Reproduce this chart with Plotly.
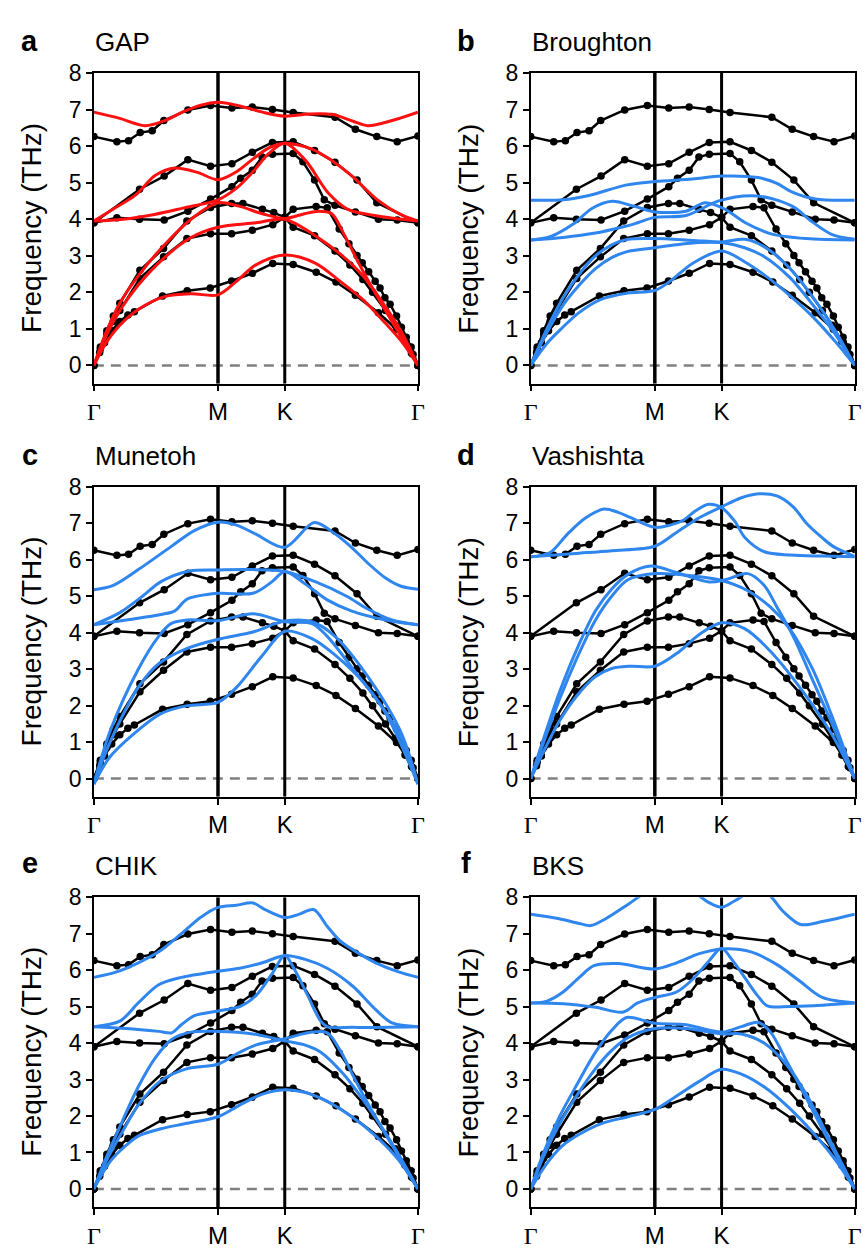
import plotly.graph_objects as go

XM, XK = 0.383, 0.589
xtick_vals = [0.0, XM, XK, 1.0]
ytick_vals = [0, 1, 2, 3, 4, 5, 6, 7, 8]

dft_b1 = [(0,0),(0.018,0.35),(0.033,0.62),(0.055,0.95),(0.08,1.2),(0.105,1.38),(0.125,1.47),(0.212,1.9),(0.288,2.04),(0.359,2.12),(0.425,2.31),(0.489,2.52),(0.552,2.79),(0.615,2.76),(0.686,2.55),(0.747,2.28),(0.807,1.92),(0.878,1.44),(0.934,0.99),(0.964,0.64),(0.985,0.3),(1.0,0)]
dft_b2 = [(0,0),(0.02,0.45),(0.04,0.85),(0.06,1.2),(0.08,1.5),(0.142,2.38),(0.215,2.97),(0.287,3.47),(0.36,3.6),(0.425,3.6),(0.489,3.7),(0.552,3.85),(0.589,4.05),(0.615,3.78),(0.681,3.55),(0.744,3.13),(0.79,2.75),(0.83,2.35),(0.86,2.0),(0.9,1.5),(0.93,1.1),(0.96,0.65),(0.98,0.33),(1.0,0)]
dft_b3 = [(0,0),(0.02,0.5),(0.04,0.95),(0.06,1.35),(0.08,1.7),(0.142,2.6),(0.215,3.2),(0.287,3.95),(0.36,4.32),(0.425,4.43),(0.46,4.43),(0.52,4.27),(0.555,4.18),(0.589,4.05),(0.615,4.27),(0.686,4.35),(0.72,4.31),(0.757,3.73),(0.787,3.33),(0.812,3.01),(0.828,2.81),(0.848,2.56),(0.868,2.3),(0.883,2.12),(0.898,1.85),(0.914,1.67),(0.934,1.35),(0.949,1.04),(0.964,0.77),(0.979,0.5),(1.0,0)]
dft_b4 = [(0,3.9),(0.071,4.04),(0.141,4.0),(0.217,3.98),(0.29,4.22),(0.36,4.55),(0.426,4.89),(0.453,5.12),(0.489,5.34),(0.519,5.7),(0.551,5.78),(0.615,5.8),(0.645,5.57),(0.681,5.07),(0.711,4.53),(0.744,4.38),(0.807,4.2),(0.878,4.0),(0.936,3.98),(1.0,3.9)]
dft_b5 = [(0,3.9),(0.141,4.82),(0.217,5.18),(0.29,5.63),(0.36,5.45),(0.426,5.52),(0.489,5.83),(0.551,6.1),(0.615,6.12),(0.681,5.88),(0.744,5.56),(0.812,5.07),(0.873,4.45),(1.0,3.9)]
dft_b6 = [(0,6.26),(0.071,6.12),(0.107,6.15),(0.143,6.37),(0.18,6.42),(0.216,6.7),(0.29,6.99),(0.36,7.11),(0.426,7.04),(0.489,7.07),(0.551,7.0),(0.615,6.92),(0.744,6.79),(0.807,6.46),(0.873,6.26),(0.936,6.12),(1.0,6.28)]

gap_b1 = [(0,0),(0.04,0.65),(0.08,1.1),(0.137,1.53),(0.218,1.88),(0.3,1.96),(0.383,1.93),(0.44,2.3),(0.5,2.75),(0.589,3.02),(0.683,2.8),(0.76,2.3),(0.835,1.76),(0.9,1.15),(0.95,0.65),(1,0)]
gap_b2 = [(0,0),(0.04,0.85),(0.08,1.5),(0.137,2.2),(0.218,2.95),(0.3,3.5),(0.383,3.78),(0.5,3.9),(0.589,4.0),(0.683,3.55),(0.76,3.05),(0.83,2.45),(0.9,1.6),(0.95,0.9),(1,0)]
gap_b3 = [(0,0),(0.04,0.95),(0.08,1.7),(0.137,2.45),(0.218,3.3),(0.3,4.0),(0.383,4.45),(0.45,4.35),(0.52,4.15),(0.589,4.02),(0.65,4.15),(0.693,4.22),(0.734,4.15),(0.774,3.55),(0.82,2.75),(0.87,1.95),(0.93,1.05),(1,0)]
gap_b4 = [(0,3.95),(0.09,4.0),(0.187,4.13),(0.278,4.31),(0.383,4.53),(0.44,4.85),(0.491,5.3),(0.54,5.8),(0.589,6.08),(0.653,5.61),(0.724,4.71),(0.784,4.27),(0.875,4.09),(1,3.95)]
gap_b5 = [(0,3.95),(0.06,4.28),(0.127,4.65),(0.19,5.2),(0.25,5.4),(0.32,5.28),(0.383,5.08),(0.44,5.3),(0.491,5.65),(0.54,5.95),(0.589,6.08),(0.673,5.92),(0.735,5.6),(0.794,5.2),(0.875,4.53),(0.946,4.13),(1,3.95)]
gap_b6 = [(0,6.93),(0.08,6.76),(0.157,6.56),(0.22,6.7),(0.278,6.95),(0.33,7.12),(0.383,7.2),(0.45,7.1),(0.52,6.93),(0.589,6.82),(0.663,6.88),(0.734,6.87),(0.8,6.68),(0.845,6.56),(0.92,6.7),(1,6.93)]

bro_b1 = [(0,0),(0.05,0.6),(0.094,1.0),(0.15,1.45),(0.215,1.8),(0.3,1.98),(0.383,2.05),(0.43,2.3),(0.499,2.79),(0.589,3.13),(0.661,2.83),(0.747,2.3),(0.82,1.75),(0.878,1.26),(0.94,0.65),(1,0)]
bro_b2 = [(0,0),(0.05,0.9),(0.1,1.65),(0.15,2.2),(0.2,2.65),(0.25,2.95),(0.3,3.12),(0.383,3.22),(0.45,3.3),(0.52,3.36),(0.589,3.36),(0.66,3.22),(0.72,2.98),(0.8,2.4),(0.88,1.55),(0.94,0.85),(1,0)]
bro_b3 = [(0,0),(0.05,1.0),(0.1,1.85),(0.15,2.5),(0.2,3.0),(0.25,3.3),(0.3,3.45),(0.383,3.47),(0.5,3.42),(0.589,3.38),(0.66,3.45),(0.72,3.25),(0.8,2.65),(0.88,1.75),(0.94,0.95),(1,0)]
bro_b4 = [(0,3.43),(0.1,3.5),(0.2,3.62),(0.28,3.78),(0.322,3.88),(0.383,4.05),(0.479,4.1),(0.58,4.5),(0.68,4.64),(0.75,4.55),(0.812,4.33),(0.87,3.92),(0.93,3.58),(1,3.45)]
bro_b5 = [(0,3.43),(0.06,3.52),(0.13,3.86),(0.19,4.3),(0.251,4.49),(0.32,4.35),(0.383,4.2),(0.479,4.22),(0.539,4.45),(0.6,4.27),(0.661,3.91),(0.742,3.6),(0.85,3.47),(1,3.43)]
bro_b6 = [(0,4.52),(0.1,4.53),(0.18,4.65),(0.297,4.94),(0.383,5.03),(0.499,5.1),(0.589,5.18),(0.701,5.14),(0.76,4.98),(0.802,4.76),(0.878,4.55),(1,4.52)]

mun_b1 = [(0,-0.15),(0.05,0.6),(0.137,1.33),(0.207,1.78),(0.288,2.0),(0.383,2.09),(0.44,2.5),(0.521,3.39),(0.589,4.04),(0.673,3.84),(0.744,3.39),(0.845,2.5),(0.946,1.15),(1,-0.15)]
mun_b2 = [(0,-0.15),(0.05,1.0),(0.137,2.5),(0.2,3.15),(0.288,3.57),(0.383,3.82),(0.491,4.02),(0.589,4.32),(0.673,4.3),(0.744,3.9),(0.845,2.8),(0.946,1.3),(1,-0.15)]
mun_b3 = [(0,-0.15),(0.05,1.3),(0.137,3.0),(0.2,3.9),(0.238,4.25),(0.288,4.35),(0.383,4.33),(0.491,4.52),(0.589,4.3),(0.673,4.25),(0.72,3.9),(0.8,3.0),(0.9,1.8),(1,-0.15)]
mun_b4 = [(0,4.22),(0.1,4.35),(0.207,4.5),(0.25,4.6),(0.288,4.92),(0.383,5.08),(0.491,5.08),(0.55,5.4),(0.589,5.68),(0.65,5.35),(0.72,4.9),(0.794,4.6),(0.9,4.35),(1,4.22)]
mun_b5 = [(0,4.22),(0.08,4.55),(0.15,5.0),(0.207,5.4),(0.288,5.68),(0.383,5.72),(0.491,5.73),(0.589,5.68),(0.683,5.4),(0.78,5.0),(0.845,4.65),(0.92,4.35),(1,4.22)]
mun_b6 = [(0,5.18),(0.06,5.3),(0.137,5.73),(0.238,6.36),(0.31,6.8),(0.383,7.03),(0.44,6.95),(0.5,6.7),(0.589,6.34),(0.68,7.02),(0.744,6.71),(0.8,6.3),(0.845,5.91),(0.9,5.5),(0.946,5.28),(1,5.19)]

vas_b1 = [(0,0),(0.04,0.75),(0.09,1.6),(0.145,2.3),(0.2,2.8),(0.25,3.02),(0.307,3.08),(0.383,3.08),(0.458,3.48),(0.52,3.95),(0.589,4.27),(0.66,4.11),(0.741,3.48),(0.853,2.23),(0.93,1.2),(1,0)]
vas_b2 = [(0,0),(0.04,1.0),(0.09,2.2),(0.145,3.35),(0.2,4.35),(0.25,5.0),(0.3,5.45),(0.383,5.62),(0.45,5.6),(0.589,5.43),(0.67,5.15),(0.74,4.7),(0.8,4.1),(0.87,3.0),(0.93,1.7),(1,0)]
vas_b3 = [(0,0),(0.04,1.1),(0.09,2.4),(0.145,3.6),(0.2,4.6),(0.25,5.2),(0.3,5.6),(0.37,5.83),(0.45,5.65),(0.55,5.39),(0.6,5.45),(0.67,5.62),(0.72,5.3),(0.76,4.7),(0.81,3.9),(0.87,2.7),(0.93,1.5),(1,0)]
vas_b4 = [(0,6.08),(0.06,6.2),(0.114,6.71),(0.17,7.15),(0.226,7.39),(0.27,7.3),(0.307,7.16),(0.383,6.89),(0.43,6.95),(0.468,7.07),(0.51,7.35),(0.549,7.52),(0.589,7.43),(0.63,7.05),(0.66,6.62),(0.721,6.22),(0.802,6.13),(0.9,6.1),(1,6.08)]
vas_b5 = [(0,6.08),(0.15,6.18),(0.25,6.25),(0.383,6.37),(0.45,6.75),(0.52,7.15),(0.589,7.45),(0.65,7.7),(0.703,7.81),(0.76,7.75),(0.81,7.45),(0.853,6.98),(0.9,6.6),(0.934,6.36),(1,6.09)]

chik_b1 = [(0,0),(0.05,0.75),(0.1,1.2),(0.137,1.45),(0.207,1.65),(0.288,1.8),(0.383,1.98),(0.45,2.3),(0.52,2.6),(0.589,2.72),(0.65,2.65),(0.72,2.4),(0.8,1.95),(0.87,1.45),(0.94,0.8),(1,0)]
chik_b2 = [(0,0),(0.04,0.8),(0.09,1.6),(0.137,2.3),(0.207,2.97),(0.288,3.3),(0.383,3.42),(0.44,3.7),(0.501,3.95),(0.589,4.12),(0.673,4.3),(0.72,4.28),(0.76,3.8),(0.8,3.1),(0.845,2.35),(0.9,1.5),(0.95,0.75),(1,0)]
chik_b3 = [(0,0),(0.04,0.9),(0.09,1.9),(0.137,2.8),(0.19,3.6),(0.24,4.1),(0.3,4.3),(0.383,4.32),(0.491,4.25),(0.589,4.06),(0.65,3.95),(0.7,3.75),(0.77,3.15),(0.85,2.2),(0.93,1.1),(1,0)]
chik_b4 = [(0,4.45),(0.1,4.4),(0.2,4.32),(0.24,4.28),(0.27,4.5),(0.31,4.75),(0.383,4.88),(0.45,5.0),(0.5,5.3),(0.55,5.9),(0.589,6.4),(0.62,6.0),(0.66,5.3),(0.7,4.6),(0.72,4.45),(0.8,4.43),(1,4.45)]
chik_b5 = [(0,4.45),(0.08,4.6),(0.137,5.1),(0.2,5.6),(0.27,5.8),(0.383,5.97),(0.45,6.05),(0.52,6.2),(0.589,6.4),(0.65,6.3),(0.72,6.05),(0.8,5.55),(0.86,5.0),(0.92,4.55),(1,4.45)]
chik_b6 = [(0,5.8),(0.07,5.95),(0.137,6.2),(0.2,6.5),(0.27,7.0),(0.33,7.45),(0.383,7.72),(0.44,7.78),(0.491,7.84),(0.53,7.65),(0.589,7.44),(0.63,7.52),(0.678,7.66),(0.72,7.2),(0.76,6.8),(0.81,6.5),(0.87,6.2),(0.94,5.95),(1,5.8)]

bks_b1 = [(0,0),(0.05,0.7),(0.1,1.2),(0.15,1.5),(0.22,1.8),(0.3,1.98),(0.383,2.18),(0.45,2.55),(0.52,2.95),(0.589,3.28),(0.65,3.15),(0.72,2.8),(0.8,2.2),(0.88,1.45),(0.94,0.8),(1,0)]
bks_b2 = [(0,0),(0.04,0.9),(0.09,1.8),(0.145,2.6),(0.2,3.3),(0.25,3.8),(0.3,4.15),(0.383,4.4),(0.48,4.4),(0.589,4.25),(0.65,4.25),(0.72,4.0),(0.79,3.4),(0.85,2.6),(0.92,1.4),(1,0)]
bks_b3 = [(0,0),(0.04,1.0),(0.09,2.0),(0.145,2.9),(0.2,3.75),(0.25,4.35),(0.296,4.7),(0.383,4.54),(0.48,4.5),(0.589,4.3),(0.65,4.45),(0.701,4.57),(0.74,4.3),(0.79,3.5),(0.85,2.5),(0.92,1.3),(1,0)]
bks_b4 = [(0,5.1),(0.1,5.08),(0.2,4.98),(0.286,4.85),(0.33,5.1),(0.383,5.25),(0.45,5.4),(0.5,5.75),(0.55,6.25),(0.589,6.6),(0.62,6.3),(0.66,5.8),(0.7,5.3),(0.73,5.02),(0.8,5.0),(1,5.1)]
bks_b5 = [(0,5.1),(0.05,5.15),(0.1,5.4),(0.15,5.8),(0.195,6.12),(0.27,6.18),(0.383,6.03),(0.45,6.2),(0.52,6.45),(0.589,6.58),(0.68,6.5),(0.76,6.15),(0.83,5.7),(0.9,5.25),(1,5.1)]
bks_b6 = [(0,7.53),(0.08,7.42),(0.15,7.28),(0.185,7.22),(0.23,7.4),(0.3,7.8),(0.35,8.1),(0.42,8.35),(0.5,8.15),(0.55,7.85),(0.589,7.72),(0.63,7.9),(0.68,8.15),(0.73,8.1),(0.78,7.6),(0.833,7.25),(0.9,7.33),(1,7.53)]

panel_letters = ["a", "b", "c", "d", "e", "f"]
panel_titles = ["GAP", "Broughton", "Munetoh", "Vashishta", "CHIK", "BKS"]

RED = "#ff1010"
BLUE = "#2f86ee"

dft_bands = [dft_b1, dft_b2, dft_b3, dft_b4, dft_b5, dft_b6]
model_bands = [
    ([gap_b1, gap_b2, gap_b3, gap_b4, gap_b5, gap_b6], RED),
    ([bro_b1, bro_b2, bro_b3, bro_b4, bro_b5, bro_b6], BLUE),
    ([mun_b1, mun_b2, mun_b3, mun_b4, mun_b5, mun_b6], BLUE),
    ([vas_b1, vas_b2, vas_b3, vas_b4, vas_b5], BLUE),
    ([chik_b1, chik_b2, chik_b3, chik_b4, chik_b5, chik_b6], BLUE),
    ([bks_b1, bks_b2, bks_b3, bks_b4, bks_b5, bks_b6], BLUE),
]

W, H = 867, 1249
col_px = [(88.3, 417.7), (532.3, 861.7)]
row_px = [(61.1, 377.3), (482.3, 797.9), (900.0, 1215.6)]
letter_y = [29, 450, 865]
title_y = [30, 451, 868]

FONT = "Liberation Sans, Arial, sans-serif"
gamma = '<span style="font-family:Liberation Serif, Times New Roman, serif">Γ</span>'


def px_x(p):
    return min(max(p / W, 0.0), 1.0)


def px_y(p):
    return min(max(1 - p / H, 0.0), 1.0)


fig = go.Figure()
layout = dict(
    width=W, height=H, margin=dict(l=0, r=0, t=0, b=0),
    paper_bgcolor="white", plot_bgcolor="white", showlegend=False,
    font=dict(family=FONT, color="black"),
)
annotations = []

for i in range(6):
    r, c = divmod(i, 2)
    n = i + 1
    xa = "x" if n == 1 else f"x{n}"
    ya = "y" if n == 1 else f"y{n}"
    x0, x1 = col_px[c]
    y0, y1 = row_px[r]
    layout["xaxis" if n == 1 else f"xaxis{n}"] = dict(
        domain=[px_x(x0), px_x(x1)], range=[0, 1], anchor=ya,
        tickvals=xtick_vals, ticktext=[gamma, "M", "K", gamma],
        ticks="outside", ticklen=6, tickwidth=1.5, tickcolor="black",
        showline=True, linecolor="black", linewidth=1.5, mirror=True,
        showgrid=False, zeroline=False, tickfont=dict(size=24, family=FONT),
    )
    layout["yaxis" if n == 1 else f"yaxis{n}"] = dict(
        domain=[px_y(y1), px_y(y0)], range=[-0.5, 8], anchor=xa,
        tickvals=ytick_vals, ticks="outside", ticklen=6, tickwidth=1.5, tickcolor="black",
        showline=True, linecolor="black", linewidth=1.5, mirror=True,
        showgrid=False, zeroline=False, tickfont=dict(size=23, family=FONT),
    )
    fig.add_trace(go.Scatter(x=[0, 1], y=[0, 0], mode="lines", xaxis=xa, yaxis=ya,
                             line=dict(color="#808080", width=2.5, dash="10px,7px"), hoverinfo="skip"))
    fig.add_trace(go.Scatter(x=[XM, XM], y=[-0.5, 8], mode="lines", xaxis=xa, yaxis=ya,
                             line=dict(color="black", width=3.5), hoverinfo="skip"))
    fig.add_trace(go.Scatter(x=[XK, XK], y=[-0.5, 8], mode="lines", xaxis=xa, yaxis=ya,
                             line=dict(color="black", width=3), hoverinfo="skip"))
    for band in dft_bands:
        fig.add_trace(go.Scatter(x=[p[0] for p in band], y=[p[1] for p in band],
                                 mode="lines+markers", xaxis=xa, yaxis=ya,
                                 line=dict(color="black", width=2.5),
                                 marker=dict(color="black", size=7.5)))
    bands, colr = model_bands[i]
    for band in bands:
        fig.add_trace(go.Scatter(x=[p[0] for p in band], y=[p[1] for p in band],
                                 mode="lines", xaxis=xa, yaxis=ya,
                                 line=dict(color=colr, width=3, shape="spline", smoothing=0.9)))
    lx = 23 if c == 0 else 467
    annotations.append(dict(text=f"<b>{panel_letters[i]}</b>", x=px_x(lx), y=px_y(letter_y[r]),
                            xref="paper", yref="paper", xanchor="center", yanchor="middle",
                            showarrow=False, font=dict(size=29, family=FONT, color="black")))
    annotations.append(dict(text=panel_titles[i], x=px_x(x0 - 1), y=px_y(title_y[r]),
                            xref="paper", yref="paper", xanchor="left", yanchor="middle",
                            showarrow=False, font=dict(size=26, family=FONT, color="black")))
    tx = 25 if c == 0 else 469
    annotations.append(dict(text="Frequency (THz)", x=px_x(tx), y=px_y((y0 + y1) / 2),
                            xref="paper", yref="paper", xanchor="center", yanchor="middle",
                            textangle=-90, showarrow=False,
                            font=dict(size=28, family=FONT, color="black")))

layout["annotations"] = annotations
fig.update_layout(**layout)
fig.write_html("out.html")
